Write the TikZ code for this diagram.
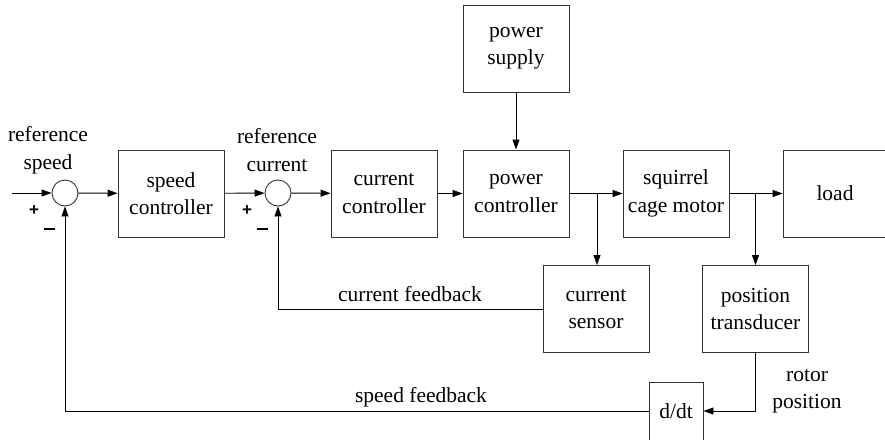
\documentclass[tikz,border=0pt]{standalone}
\usepackage{fontspec}
\setmainfont{Liberation Serif}
\newfontfamily\serffont{Liberation Serif}
\newfontfamily\signfont{Liberation Sans}
\usetikzlibrary{arrows.meta}
\tikzset{
  txt/.style={font=\serffont\fontsize{21.5pt}{27.5pt}\selectfont},
  blk/.style={txt,draw=black!80,line width=0.9pt,minimum width=106pt,minimum height=87pt,align=center,inner sep=0pt},
  sumc/.style={draw=black!80,line width=0.9pt,circle,minimum size=26pt,inner sep=0pt},
  lbl/.style={txt,align=center,inner sep=0pt},
  sgn/.style={font=\signfont\bfseries\fontsize{17pt}{17pt}\selectfont,inner sep=0pt},
  conn/.style={line width=0.9pt,-{Triangle[length=10pt,width=7pt]}},
}
\begin{document}
\begin{tikzpicture}[x=1pt,y=-1pt]
\useasboundingbox (0,0) rectangle (885,439);
\clip (0,0) rectangle (885,439);

\coordinate (in) at (12,193);
\node[sumc] (s1) at (65,193) {};
\node[sumc] (s2) at (278,193) {};
\node[blk] (sc) at (171,193.5) {speed\\controller};
\node[blk] (cc) at (384,193.5) {current\\controller};
\node[blk] (pc) at (516,193.5) {power\\controller};
\node[blk] (ps) at (516,48.5) {power\\supply};
\node[blk] (mot) at (676,193.5) {squirrel\\cage motor};
\node[blk,minimum width=110pt] (load) at (838,193.5) {};
\node[lbl] (loadt) at (835,193) {load};
\node[blk] (cs) at (596,309) {current\\sensor};
\node[blk] (pt) at (755.5,309) {position\\transducer};
\node[blk,minimum width=54pt,minimum height=58pt] (ddt) at (676,411) {d/dt};

\node[lbl] (rs) at (48,150) {reference\\speed};
\node[lbl] (rc) at (277,150) {reference\\current};
\node[lbl] (rp) at (807,391) {rotor\\position};
\node[lbl] (cf) at (410,294) {current feedback};
\node[lbl] (sf) at (421,397) {speed feedback};

\node[sgn] (p1) at (34,211) {+};
\node[sgn] (m1) at (49,229) {\rule{11pt}{2.6pt}};
\node[sgn] (p2) at (247,211) {+};
\node[sgn] (m2) at (262,229) {\rule{11pt}{2.6pt}};

\coordinate (b1) at (597,193);
\coordinate (b2) at (755.5,193);

\draw[conn] (in) -- (s1);
\draw[conn] (s1) -- (sc);
\draw[conn] (sc) -- (s2);
\draw[conn] (s2) -- (cc);
\draw[conn] (cc) -- (pc);
\draw[conn] (ps) -- (pc);
\draw[conn] (pc) -- (mot);
\draw[conn] (mot) -- (load);
\draw[conn] (b1) -- (b1 |- cs.north);
\draw[conn] (b2) -- (pt.north);
\draw[conn] (cs.west) -| (s2.south);
\draw[conn] (pt.south) |- (ddt.east);
\draw[conn] (ddt.west) -| (s1.south);
\end{tikzpicture}
\end{document}
